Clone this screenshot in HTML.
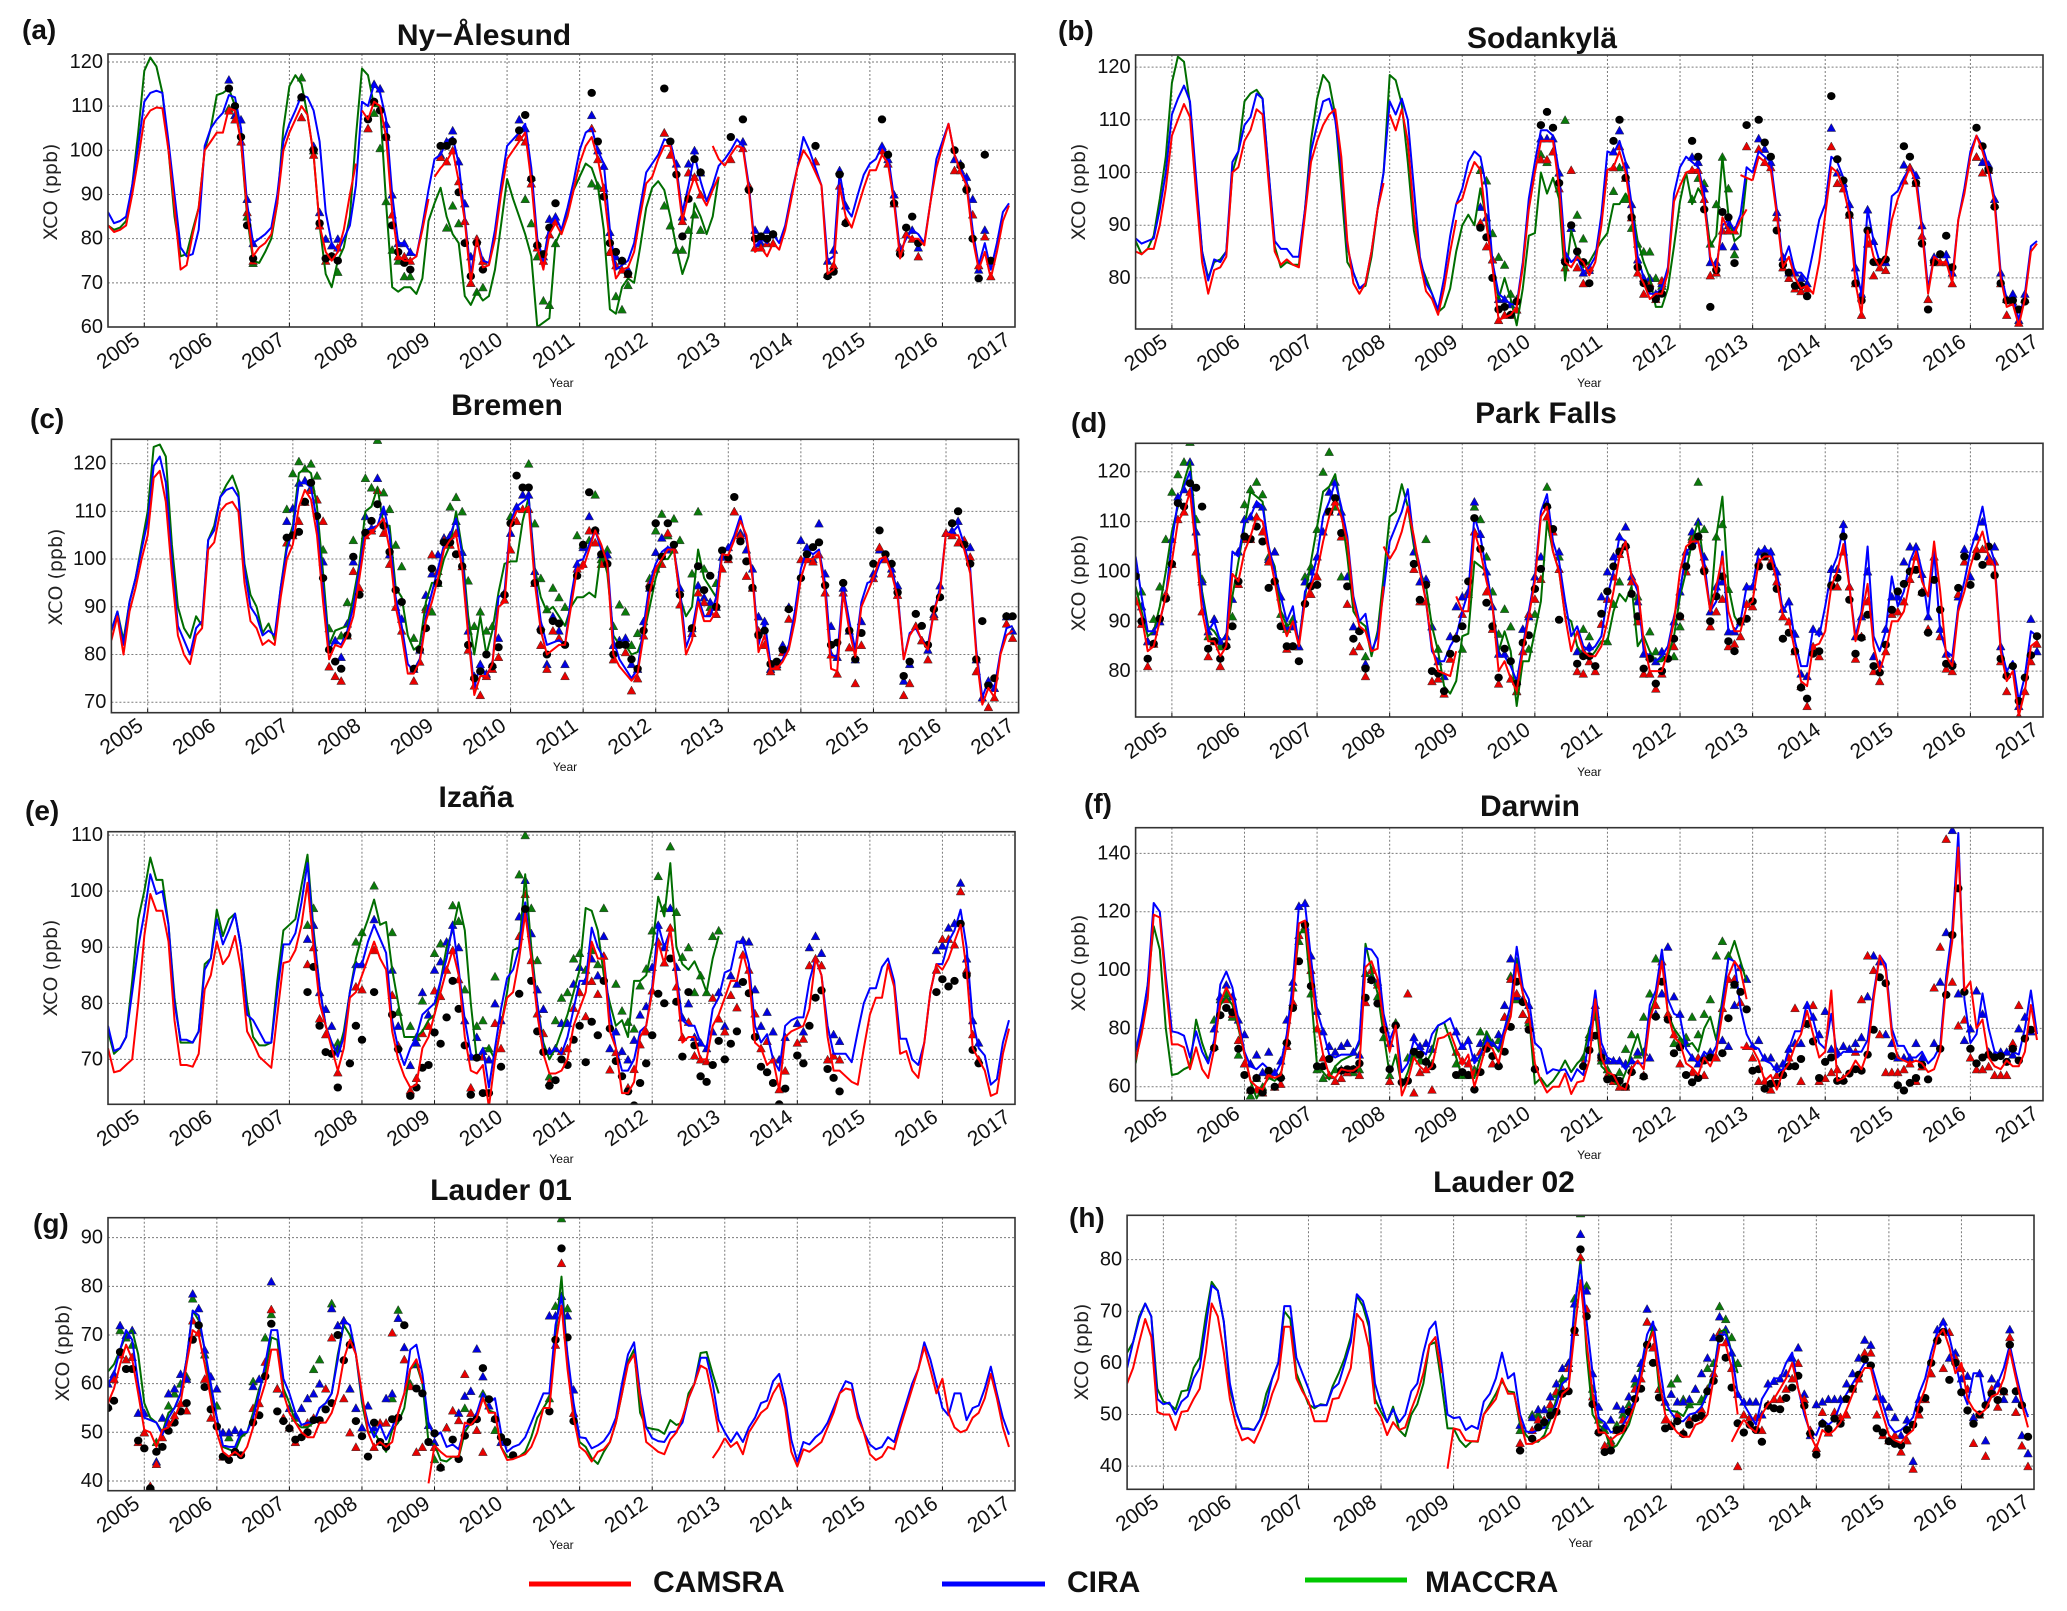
<!DOCTYPE html>
<html lang="en">
<head>
<meta charset="utf-8">
<title>XCO time series at eight stations</title>
<style>
html,body{margin:0;padding:0;background:#fff}
svg{display:block}
text{font-family:"Liberation Sans",sans-serif;fill:#111}
.ttl{font-weight:bold;font-size:30px;text-anchor:middle}
.lab{font-weight:bold;font-size:28px}
.ytk{font-size:20px;text-anchor:end;dominant-baseline:central}
.xtk{font-size:21px;text-anchor:middle;dominant-baseline:central}
.yt{font-family:"DejaVu Sans",sans-serif;font-size:19px;text-anchor:middle;fill:#222}
.xt{font-size:12px;text-anchor:middle;dominant-baseline:central}
.leg{font-weight:bold;font-size:30px}
</style>
</head>
<body>
<svg id="fig" xmlns="http://www.w3.org/2000/svg" width="2067" height="1611" viewBox="0 0 2067 1611">
<g>
<line x1="529" x2="631" y1="1584" y2="1584" stroke="#f00" stroke-width="5"/>
<text class="leg" x="653" y="1592">CAMSRA</text>
<line x1="942" x2="1045" y1="1584" y2="1584" stroke="#00f" stroke-width="5"/>
<text class="leg" x="1067" y="1592">CIRA</text>
<line x1="1305" x2="1407" y1="1580" y2="1580" stroke="#00c800" stroke-width="5"/>
<text class="leg" x="1425" y="1592">MACCRA</text>
</g>
</svg>
<script>
const yearTicks=[2005,2006,2007,2008,2009,2010,2011,2012,2013,2014,2015,2016,2017];
/* Lines: monthly values starting July 2004. Markers: runs of [startMonth, values...] */
/* (a) Ny-Alesund */
const aRed=[83,81.5,82,83,90,98,107,109,109.7,109.5,100,87,73,74,81,87,100,102,104,104,109.5,109,102,86,76,78,79,81,88,100,104,107,110,108,99,83,77,75,77,82,90,97,109,107,111,110,103,86,76,75,75,76,82,89,94,96,97.5,100,93,84,70,80,73.5,74,80,90,98,100,102,104,93,78,73,81,83.5,81,85,91,97,101,103,98,91,79,71,73,73.5,77,85,92.5,94,98,101,101,95,84,90,94,90,87.5,91,94,96.5,99,101,100.5,91,77,78,76,79,77.5,82,89,96,100,98,95,92,72,73,92,85,82.5,87,91.5,95.5,95.5,99,97,88,75.5,81,80,80,78.5,88,96,101,106,99,95,92,80,73,77,71,77,84,87.5];
const aRedBreaks=[42,54,102];
const aRedExtra=[[100,101,98,96.5]];
const aBlue=[86,83.5,84,85,92,101,111,113,113.5,113,102,90,78,76,76.5,82,101,105,107,108.5,112.5,112,105,88,79,80,81,82.5,90,102,106,109,112.5,112,109,102,86,79,77,80,83,92,111,110,115,113,107,90,79,79,77,76,83,91,98,99,102,103,97,85,72,80,75,74.5,82,92,101,102.5,104,106,96,80,75,83,85,82,87,93,100,104,105,100,97,82,73,74,75,79,87,95,97,99,102.5,102,96,86,92,99,93,88.5,92,96.5,98,100,102.5,101,92,78,80,79,81,79,83,90,96,103,100,96,92,75,76,95,87,85,90,94.5,97,98,101,99,89,77,80,82,81,79,88,98,102,106,99,96,93,82,74,79,73,79,86,88];
const aGreen=[83,82,82.5,84,92,104,118,121,119,113,100,85,76,76.5,82,87,100,105,112.5,113,114,110,102,85,75,74.5,77,80,88,105,114.5,117,115,108,99,83,72,69,75,78,85,103,118.5,117,110,110,88,69,68,69,69,67.5,71,84,88,91.5,85,81,79,67,65,68,66,67,73,83,93.5,89,85,81,76,60,61,62,79,82,86,91,94,97,96,92,82,64,63,69,71,70,78,87,91.5,93,91,85,78,72,76,88,85,81,85,94];
const aObs=[[20,114,110,103,83,75.5],[32,112,,100,83.5,75.5,76,75],[43,107,111,109,103,83,77,74.5,73],[55,101,101,102,90.5,79,71.5,79,73],[68,104.5,108,93.5,78.5,76.5,82.5,88],[80,113,102,89.5,79,77,75,72],[92,114,102,94.5,80.5,89,98,95],[103,103,,107,91,80,80.5,80,81],[117,101,,71.5,72.5,94.5,83.5],[128,107,99,88,76.5,82.5,85,79],[140,100,96.5,91,80,71,99,75]];
const aTriBlue=[[20,116,108,107,89,79],[32,112,,101,86,80,78.5,80],[44,115,114,106,90,79,79,77],[55,99,102,104.5,97.5,88,76,80,75],[68,107,105,94,79,76,84.5,85],[80,108,100,96.5,81.5,76,75,73],[92,104,,97,85,97,100,95],[105,102,92,82,79,82,81],[119,75,77.5,95.5,87.5],[128,101,98,90,78,81,82,78],[140,98,97,94,89,73,82,75]];
const aTriRed=[[20,109,107,102,86,75],[32,107.5,,99,83,75,76,78],[43,105,111,,103,85.5,76,76,75],[55,98.5,97.5,100,93,84,70,80,75],[68,103,102,92.5,78,75,81,84],[80,105,98,91.5,77,74,73,72],[92,104,99,,84,95,94,90],[103,98,,100.5,92,78,78,79,79],[117,97.5,,72,74,92,84],[128,100,97,88,78,81,80,76],[140,95.5,95.5,92,85.5,74,80.5,71.5]];
const aTriGreen=[[20,109.5,108,102,85,74.5],[32,116.5,,100,83,,,72.5],[43,105,108.5,100.5,88.5,77.5,75,71.5,71.5],[56,82.5,87.5,83.5,84,70,68,69],[68,103,89,83.5,76,66,65,79],[80,92.5,92,91.5,77,67,64,69.5],[92,87.5,83,77.5,77.5,82,85.5,82]];
/* (b) Sodankyla */
const bRed=[85,84.5,85.5,85.5,90,97,107,110,113,110.5,96,83,77,81.5,82,84,100,101,106,108,112,111,98,85,82.5,83.5,82.5,82,92,102,106,109,111,112,103,87,79,77,79,85,93,98,111,108,112,106,92,83,77.5,76,73,78,85,91,95,99,102,100.5,90,82,72,72.5,73,74.5,82,93,100,106,106,106,97,83,82,84,83,80.5,83,90,100.5,101,104,100,92,81,79,76,77,77,81,94.5,97.5,100,100.5,100.5,94,84,81,91.5,89,88.5,91,93,98.5,103,102,100.5,92,82,84,80,78,78.5,77,83,92,101,100,97,92,79,73,89,84,82,84,91,95,98,101,98,89,77,84,83,83,79,91,96,103,107,104,100,94,80,74.5,75,71,76,85,86.5];
const bRedBreaks=[42,54,102];
const bRedExtra=[[53,94,95],[100,99.5,99,98.5]];
const bBlue=[87.5,86.5,87,87.5,93,100,111,114,116.5,113.5,99,85,79.5,83.5,83,85,102,104,109,110.5,115,114,100,87,85.5,85.5,84,84,93,104,109,113.5,114,110,101,86,81,78,79,85,93,100,113.5,111,114,110,97,84,79,77,74,80,88,94,97,102,104,103,97,83,77,76,75,75,83,95,102,108,108,107,100,85,83,84,81,82,84,92,104,103.5,106,102,94,84,80,77,77,78,82,96,101,103,102,101,96,83,82,90,91,89,92,101,100,104,103,102,93,83,86,81,81,79.5,85,91,94,103,102,99,94,82,77,93,87,83,84,95.5,96.5,99,101,99.5,90,78,84,84,84,80,91,97,104,107,105,101,95,81,76,76.5,72,77,86,87];
const bGreen=[87,84.5,85.5,88,95,103,117,122,121,113,98,85,80,83,83.5,85,100,104,113.5,115,115.7,114,100,86,82,83,82.5,82.5,93,106,114,118.5,117,111,97,83,81,78,78.5,84,93,100,118.5,117.5,113,102,89,83,80,77,73.5,74.5,78,85,90,92,90,97,91,83,76,80,76,71,78,88,88.5,100,96,99,95,79.5,89,85,82,83,85,87,88.5,94,94,96,94,87,83,80,74.5,74.5,78,86,94.5,100,94,97,95,86,88,103,92,87,88,99];
const bObs=[[57,89.5,87.7,80,74,74.5,73,75.5],[67,109,111.5,108.5,98,83,90,85,83,79],[79,106,110,99,91.5,82,79,78,76,77],[92,106,103,93,74.5,81.5,92.5,91.5,82.8],[101,109,,110,105.7,103,89,82.5,81,78.5,78.5,76.5],[115,114.5,102.5,98.5,92,79,75.7,89,83,83,83.5],[127,105,103,98,86.5,74,83,84.5,88,82],[139,108.5,105,100.5,93.5,79,75.7,75.7,74,75.5]];
const bTriBlue=[[57,93.5,91.5,83.5,76,76,75,74],[67,106.5,106.5,106.5,100,84,89.5,84,81,81.5],[79,104,108,101.5,94,83.5,80,80,77,79],[92,103,102,97,83,83,86,90,86],[103,106.5,104.5,102,92.5,84,81,81,80,79],[115,108.5,100,98,94,82,77,93,87,83,83],[127,101.5,101,99.5,90,76,84,84.5,84.5,81],[139,103,102,101.5,95,81,76,77,72,77]];
const bTriRed=[[57,90.5,86,83.5,72,73,73,74],[67,102.5,102.5,104,97,82,100.5,82,79,82],[79,101,105,99,91.5,81,77,79,76,79.5],[92,100.5,100.5,95,80.5,81,89,89,89],[101,105,,104.5,102,101,91.5,82,80,78,77.5,78],[115,105,98,97,92,79,73,86.5,80.5,82,81.5],[127,98.5,101,98,88,76,83,83,83,79],[139,103,100,100.5,94,79,73,75.5,71.5,76]];
const bTriGreen=[[57,100.5,98.5,88.5,84,82.5,77,76],[67,103.5,102,104,100,110,89.5,92,87.5,82],[79,96.5,101,95,89.5,86.5,85,85,80,78.5],[92,95,99,98,86.5,94,103,97,84.5]];
/* (c) Bremen */
const cRed=[83,88,80,89,94,100,105,117,118.5,112,97,84,80,78,84,85.5,102,103.5,110,111.5,112,110,95,87,85.5,82,83,82,92,100,103,111,114.5,112.5,105,91,79,82,81.5,84,88,96,104.5,105.5,107,108.5,102,90,84,76,76,78.5,87,91,96,102,104,105,98,84,71.5,75.5,75.5,78,90,91,107,110,110,111,95,85,80,81,82,82,90,98,98,102,106,103,99,80,77.5,76,74.5,76,84,93,98,100,102,102,92,80,83,91,87,87,89,101,100.8,104,108,105,96,80.5,84,77,77,78.5,81,87,96,100,100,101.5,93,77,76.5,93,85,79.5,90,93,96,100,100.5,97,92,79,84,86,83,81,89,93,105.5,105,105,102,97,80,69.5,73,71,80,84,85];
const cRedBreaks=[];
const cRedExtra=[];
const cBlue=[85,89,82,91,96,102,108,119.5,121.5,116,100,86,83,80,85.5,87,104,106,113,114.5,115,113,98,90,88,84,85,84,94,102,106,116,116,115,108,94,81,83,82,85,90,98,106,106.5,107,111,105,92,86,78,76.5,79,88,93,98,103,105,108.5,101,85,73,78,75.5,78,92,93,108,111,112,113,97,87,82,82.5,83,82,92,99.5,100,103,106,102,100,83,79,77,75,77,86,95,99,101.5,102.5,102,94,81.5,85,92,88,88,92,102,102,105,109,104,97,82,87,78,78,79,82,89,98,102,101,102,95,80,79.5,94,87,81,91,95,95.5,99,101,98,93,79,84.5,85.5,83,82,89,94,105.5,105.5,107,103,98,81,71,74.5,73,80.5,85.5,86];
const cGreen=[85,89,83,91,96,103,110,123.5,124,121.5,103,90,85.5,83.5,88,86,104,107,113,115.5,117.5,114,99,92.5,90,84.5,86.5,83,94,103,107,118,119,118,111,97,82,85,85.5,86,92,99,110,111,115,107,107,94,92,84,81,82,91,95,95,100,103,110,102,88,80,88,80,85,93,99,99.5,99.5,108,113,98,92,89,90,88,86,90,92,92,93,92,102,97,84,82,82,80,80.5,84,90,96,100,100,102,92,88,90,102,96,94,92,102];
const cObs=[[29,104.5,105,105.7,112,116,109,96,81,78.5,77,84,100.5,92.5],[42,105.5,108,111.5,107,101.5,93.5,91,,77,81,85.5,98],[54,95,103.5,103.5,101,98.5,82,75,76.5,80,77.5,81.5,92.5],[66,107.5,117.5,115,115,95,85,80,87,86.5,82,,96.5],[78,103,114,106,101,99,80,82,82,79,77,85,94],[90,107.5,100.5,107.5,103,92.5,,85.5,98.5,93.5,96.5,90,101.8],[102,100.3,113,103.7,99.5,94,84,85,78,78.5,81,89.5],[114,96,101,102.5,103.5,94.5,82,82.5,95,85,79,84.5],[126,99,106,101,99,93,75.5,78.5,88.5,86,82,89.5,92],[139,107.5,110,103,99,79,87,73.5,75,,88,88]];
const cTriBlue=[[29,108,110.7,116,116.5,115,112.5,99.5,,83,79.5,86.5,99.5],[42,109,106.5,117,110,101,,87.5,,77,81,92.5,97],[54,101,104.5,105,108,101.5,85,75.5,78,76,78,83.5,93],[66,105.5,111,113.5,113.5,97.5,86,78,88,85,78,,99],[78,102.5,109,106,101,101,82,83,83.5,78,77,87,94],[90,101.5,104.5,102,102,94,,85.5,94.5,92,91,90,100.5],[102,102.5,110,105.5,102,98,88,87,77,78,82,90],[114,104,102.5,100,107.5,97,86,79.5,94,85,79,87],[126,97,102,100,98,94.5,74.5,78,86,83,81,88.5,94.5],[138,105.5,106,108,103.5,102.5,79,71,74.5,73,,88,85]];
const cTriRed=[[29,103.5,105,108,112,114.5,112.5,108,77.5,75.5,74.5,84,97.5,94],[42,105,106,114.5,105.5,99,90,85,,74.5,78.5,89.5,101],[54,97.5,104,103,105.5,98.5,81,73.5,71.5,75.5,77,79.5,91.5],[66,102,108,110.5,110.5,95,82,77,85,83.5,75.5,,98],[78,99,106,103.5,99,,79,,80.5,72.5,75,84,95],[90,98,99,105.5,102,90.5,,84.5,93,91,89,88.5,98],[102,100,110,105,96.5,94,85,82,76.5,77.5,80.5,87.5],[114,100,100,99.5,101,93,80,76,93,81.5,74,82],[126,96,102.5,100,97,92.5,71.5,74,86,83,79,88],[138,105.5,105,103.5,104,100.5,76.5,,69,71,,86.5,83.5]];
const cTriGreen=[[29,110.5,118,120.5,119,120,117.5,102,85.5,,84,91,104],[42,117,115,125,114,110.5,103,98.5,,83.5,,90,89],[54,95,,111,113,110,95.5,86,89,85,86],[66,109,,,120,107.5,96,89.5,94,92,90,,105],[78,103,104,113.5,100,102,86,90.5,89,82,84.5,,96],[90,106,109.5,105,108.5,104,,97,110,98,90,95]];
/* (d) Park Falls */
const dRed=[95,91,84,85,90,95,102,110,112,116,104,92,86,86,83,85,99.5,98,104,107,111,110,104,98,91,87,90,85,94,97,100,106,111,114,111,106,94,89,88,84,84.5,97,102.5,104.5,108,113,107,100,94,85,80,79.5,79,84,92,92,108,104,98,93,80,82,78.5,76,84,91,98,111,113,104,100,91,84,88,84,83,83,85,90,96,103,106,99,97,86,80,80,80,84,90,100,105,106,106,100,92,97,103,92,88,88,93,94,102,103,103,98,91,90,84,78,77,85,85.5,88,97,100,105.5,97,86,91,97.5,85,80,84,90,90,92,98,104,98,95,106,96,83,81,92,96,101,105,108,103,101,84,78,80,71,76,85,86];
const dRedBreaks=[42,54];
const dRedExtra=[[41,105,102.5],[53,95,92]];
const dBlue=[103,95,88,88,90,95,106,114,117,120,107,95,88,90,86,87,104,103,110,111,114,113,105,100,95,90,93,85,96,98,103,111,114,118,113,107,95,90,91.5,84,87,96,106,109,112,116.5,106,101,94,84,82,82,85,87,92,96,111,107,100,93,83,83,81,78,85,92,99,112,115.5,106,102,94,87,89,85,84,85,87,95,100,107,106,99,96,84,83,82,83,85,91,96,104,105,106,102,92,94,104,88,88,90,97,97,104,104.5,104,100,92,94,86,81,81,88.5,87,93,100,103,109,97,87,92,105,87,84,88,99,93,96,102,105,100,91,104,88,84,83,93,98,104,108,113,106,102,85,80,82,74,79,88,87];
const dGreen=[97,92,87,88,93,100,108,113,118,122,108,96,89,88,86,87,95,102,109,116,115,114,104,101,92,89,90,86,95,102,109,116,117,119.5,112,103,92,90,89,83,88,99,111,112,117.5,113,105,100,97,89,84,77,75.5,78,87,87.5,102,101,100,93,84,88,84,73,82,82,88,94,110,104,100,91,90,85,83,82.5,84,86,86,92,95.5,94,97,85,87,84,82,82,83,87,95,100,106,110,101,92,107,115,97,91,89];
const dObs=[[0,99,90,82.5,85.5,90.5,94.5,101.5,113.7,113,117.7,116.8,113,84.5,86,82.5,85,89,98,107,106.5,109,106,96.7,98,89,85,85,82,93.5,97,97.3,,112,114.7,107.7,97,86.5,88,80.5],[46,101.5,94.3,97.3,80,79.5,76,83.5,86.5],[54,89,98,110.7,104.5,93.7,89,78.7,84.5,82,77.5,85.7,87.2],[66,96.5,100.5,113,108.5,90.3,,,81.5,83,83,81,91.5],[78,96,101,104,105,95.5,91,80.5,82.5,77.5,80,82.5,86.5],[90,91,101,105,107,100,90,95,99,86,84,90,90.5],[102,94,101,103,101,96.5,86.5,87.7,84,76.7,74.5,83.5,84],[115,97.2,98.7,107,94.3,83.5,86.7,91.3,81,79.7,85.3,92.3],[126,96,97.5,100,100.3,95.7,87.7,98.3,92.3,81.5,81,96.7,103],[138,97.3,103,101.3,105,99.2,82.5,79,81,74,78.7,83.2,87]];
const dTriBlue=[[0,100,93,86,88,90,95,106.5,115,116.5,122,108,98,88,90.5,86,87,94.5,104,110.5,111,113.5,113,102.5,104,95,89,89,85,98,100,103,108,116,118,112,99,89,88.5,81.5],[46,104,98,98.5,89,82,79,87,93],[54,95,96,114,107.5,100,93,83.5,83.5,,78,88.5,91],[66,99,103,113.5,,104,,,84,84,85,,95],[78,100,103,107,109,99,94,83.5,83,82,84,,90],[90,96,104,108,110,103,92,97,98,88,88,90,97],[102,97,104,104.5,104,100,92.5,94,87.5,79.5,79,88.5,88],[115,100.5,100.5,109.5,97,87,91,100,83,81.5,88.5,95],[126,95,102,105,105,99.5,91,,88.5,83.5,82,95,104.5],[138,99,107,110,103,105,85,79.5,,73,,90.5,84]];
const dTriRed=[[0,94,89.5,81,85.5,,95.5,101.5,110.5,112,116,104,92,83,86,81,85.5,,97.5,106.5,106.5,111,108,102,98,,84.5,85,,,95.5,99,,112,114,107,93.5,84,85,79],[46,100.5,94,94,78,78.5,75.5,82.5,87],[54,91.5,95.5,108,,96,88.5,77.5,,78.5,76,84,91.5],[66,94.5,98.5,111,108,100.5,,,80,79.5,82,80,89.5],[78,94.5,99,103.5,105.5,98,90,79.5,79.5,76.5,79.5,83,85],[90,91,100,106.5,107,101,89,92,94.5,85,85.5,87,93.5],[102,93,102,103,102,98,91,90,84,77,73,85,83],[115,97,97,104,97,82.5,87,94,80,78,84,91.5],[126,92,94,98.5,103,96,88.5,103,87,80.5,80,95.5,102],[139,104.5,104.5,102,102,82,76,,71,76,82,85.5]];
const dTriGreen=[[0,,96,86,90.5,97,106.5,116,119.5,122,126,110.5,98.5,87,90.5,85,87,91,,113.5,116.5,118,115.5,103,104,91.5,88.5,90.5,85,99,101,108.5,120,124,113,99,,,,83],[46,,,106.5,89,84.5],[54,84.5,,113,110.5,103,96,87.5,92.5,89,76,,84.5],[66,91.5,,117,,103,,,,88.5,87],[78,86,93.5,98,,98,95,,88,84,83,,83],[90,89,100,107,118,108.5,,107,109.5,96.5]];
/* (e) Izana */
const eRed=[72,67.7,68,69,70,80,92,99.5,96.5,96.5,91,77,69,69,68.7,71,82.5,85,91,87,88.5,92,86,75,73,70.5,69.5,68.5,78,87.2,87.5,89.5,94,101.5,90,80,76,72,68,72,81,82,85,88,91,88,86,75,70,67,65,65.5,72,74,78,82,86,89.5,85,74,68,67.5,69,61.5,70,76,81,82,88,96,88,78,71,67.5,67.5,68,70,76,79,82,91,88,88,75,72,64,64,66,74,76,82,91,87,93.5,84,73,74,74,70,70,76,78,81,84,84,89,85,73,72,69,70,64.5,74,75,75.5,76,79,88,85,74,68,68,67,66,65.5,72,78,81,81,87,83,71,71.5,68,66.7,73,82,87,86,88,91,94,86,72,70,68,63.5,64,71,75.5];
const eRedBreaks=[];
const eRedExtra=[];
const eBlue=[76,71.5,72,74,82,90,96,103,99.5,100,94,80,73.5,73.5,73,75,86,88,95,90.5,93,96,90,78,77,75,73,73,82,90.5,90.5,92.5,98,105,92,83,76,73,70.5,74,82,87,87,91,94,91.5,89,77,72,69,72,74,78,79,80,84,88,94,86,77,71,70,72,65,72,79,84.5,86,90,98,88,80,72,71,72,71,74,79,84,84,93.5,90,88,78,72,68,68,70,75,76,83,94,90,93,85,77,76,76,73,72,79,81,85.5,86,91,91,87,76,73,74.5,70,68,76,77,77.5,77.5,84,88,85,76,71,71,71,69.5,75,80,82.7,82.7,86.5,88,84,73.7,73.7,70,69,73,82,87,87,91,93,96.7,90,77,72,70.7,65.5,66.5,73,77];
const eGreen=[75,71,72,74,84,95,100,106,102,102,94,81,73,73,73,75,87,88,96.7,92,95,96,90,80,74,72.5,72.5,73,84,93,94,95,101,106.5,93,83,76,73,71,75,82,88,92,95,98.5,94,94.5,86,80,74,74,74,75,77,78,84,90,93,98,93,80,70,72,72,70,76,82,89.5,90,103,90,80,73,70,72,75,78,82,86,97,96.5,93,85,80,76,77,74,84,84,85,90,99,95.5,105,90,87,86,87.5,85,82,88,92];
const eObs=[[33,82,86.5,76,71.3,71,65],[40,69.3,76,73.5,,82],[47,78,71.8,,63.5,65,68.5,69],[54,74.8,72.8,77.5,84,79,72.5,63.7,70.3,64,64,,68.7],[68,81.7,96.8,84,75,71.3,65.3,66.3,70,69,73.5],[78,76,69.5,76.7,74.3,84,75.5,69.7,67,64.3,61.8,65.8,69.3],[90,74.3,81.7,80,88,80.3,70.5,82,72.5,67,66,69,73.3],[102,70,72.8,75,83.8,81.8,74,68.7,67.7,65.8,62,64.8],[114,70.7,69.3,76,81,82.3,68.3,66.7,64.3],[137,82,84.3,83,84,94.2,85,71.7,69.3]];
const eTriBlue=[[33,91.5,94,82,79,76,72],[41,87,87,,95],[47,86,76,,69,73,82,78],[54,86,87.5,91,94,90,77,70.5,74,71.5,70,80,77],[68,95.5,102,92.5,82.5,79,71.5,72,76.5,76.5,83.5],[78,86.5,84,88,85,92,72,75,71.5,70,73.5,78,79.5],[90,86.5,94,90,97,86.5,77.5,80,74,73,72,75,82],[102,76,85,83.5,91.3,91,82.5,76,78.5,75,70,74],[114,76.5,75,90,92,89,,74.5,73.3],[137,89.5,90.3,93.5,94.3,101.5,88,77,73]];
const eTriRed=[[33,87,90,77.3,74.5,,67.7],[41,83,82.5,,89.5],[47,81.5,72.5,,64.5,66.7,74.7,76],[54,82.3,81.3,86,89.5,84.3,,65,,70.5,,76.5,72],[68,92,99.5,87.7,78.2,74.7,66,,71.5,72,79.2],[78,82,77.7,84,81.7,88.5,68.2,71.3,,65,68.3,72.7,75],[90,82.3,91,87.3,93.5,83,74,76.7,70.7,70,69.7,81,77.3],[102,75,81.5,79.3,88.7,86,78.2,72,73.3,70,64.7,68],[114,73,73.7,86.8,88,86.8,70,70.7,70],[137,86,91.5,91.5,90.5,100,86,74.5,70]];
const eTriGreen=[[33,94,97],[38,73],[41,91,92.7,,101],[47,92.7,78.5,,76,74,80.5],[54,89,90.7,,97.5,94.7,82.5,,76,77,72,84.8],[68,103,110,97,87.7,79,67,77,81,82,88],[78,89,86,89.5,87,97,,83.5,78.7,76.7,75.5,83.2,86.2],[90,93,102.7,97,108,96.3,88.3,90,82,85,82,92,93]];
/* (f) Darwin */
const fRed=[69,78,90,119,118,95,74.5,74.5,73.5,66,73.5,66,63,73,89,94,90,81,71,62,60,59,64,63,64,75,90,116,117,99,82,71,64,63,66,65.5,65.5,67,101,103,97,82,72,81,57,62,70,67,65,67,76.5,77,78.5,73,67.5,71,60,67,74.5,73,68,78,84,102,92,85,68,62,58,60,60,64.5,57.5,61.5,62,69,90,70,65,64,60,59,66,69,66,83,90,103,85,77,75,68,66.5,64,70,67,72,85,98,103,100,90,73,69,62,64,59,65,68,74,78,86,78,70,72,93,62,63,65,69,66,72,90,105,100,78,70,69,68,69,68,65,66,72,95,110,142,93,96,80,83,70,67,66,69,67,67,72,88,76];
const fRedBreaks=[102];
const fRedExtra=[[100,73.5,73.2,73]];
const fBlue=[72,82,95,123,120,98,79,78.5,77.5,70,79,72,68,76,95,99.5,94,83,72,67,66,68,66,64,68,78,96,122,122.5,104,86,79,71,70,71,71,71,76,107.5,107,104,85,76,81,65,68,76,73,71,78,81,82,83.5,78,73,76,68,71,76,75,73,80,88,108,94,90,75,73,64.5,66,65.5,66,62,66,64,77,93,75,70,69,68.5,66,69,68,68,88,93,107,90,85,84,73,70,68,72,70,74,88,104,103,87,78,74,73,69,68,65,66,73,79,79,89,83,75,73,85,70,72,72,72,72,76,92,105,102,80,74,74,70,70,72,68,70,74,98,114,147,90,75,78,92,80,72,71,72,72,71,80,93,78];
const fGreen=[68,80,95,115,107,80,64,64.5,66,67,83,75,69,75,88,91,88,80,71,62,56,60,63,62,64,75,93,112,115,92,67,65,62.5,67,69,70,71,75,109,100,92,78,64,71,60,65,72,70,68,72,81,82,76,70,63,64,63,70,79,75,72,78,85,104,92,85,61,63,60,62,65,69,65,68,70,80,85,67,65,62,60,65,72,78,70,85,91,106,85,80,77,74,75,72,80,84,76,90,104,110,103,96];
const fObs=[[13,73.3,84.5,87,85.5,73,64,58.7,63,58,65.5,60,63,75,87,103,115.5,94.5,67,67,69.5,,65.5,66,66,68,90.5,96.5,88.5,79.5,66,81,61.5,62,72,71,68.5,67],[53,64,65,64,59,65,73,70.5,67,72,80.5,96,89,79.5,66],[74,67,72.5,77.5,70,62.5,63,62,60,65,,63.5,,84,96,83,71.5,73.5,64,61.5,63,69,70,,71.5,83.5,95,92.5,86.5,65.5,66,59.3,61,61,64,67,67,69.5,81.5,75.5,63,68.5,70,62,62,64.5,66,65.5,71,79.5,97.5,95.5,70.5,60.5,58.7,61.3,63,67.5,62.5,,73,91.5,112,128,92.5,73,68,70,71,70,70.5,68.5,73,69,76.5,79.5]];
const fTriBlue=[[13,80,91,95,91,83,78,68,71,65,72,65,69,83,96,122,123,105,86,79,74,72,74,75,72,71,,97,96,,75,,,,77,74,75,73],[53,79,74,76,70,75,77,75,78,88,104,91,90,88],[74,,77,84,72,69,69,69,68,69,72,72,70,85,92,108,91,85,75,70,68,70,72,,76,74,88,101,97,74,76,70,70,67,68,73,75,75,88,84,78,86,73,72,74,73,75,77,91,105,103,78,75,70,70,70,75,70,,75,96,113,148,92,76,80,93,85,72,71,72,72,71,80,84,79]];
const fTriRed=[[13,74,,90,85,76,68,59,59,58,64,60,61,74,89,112,115,100,80,70,64,62,63,65,66,64,89,100,95,,62,,,92,58,65,66,59],[53,72,69,68,65,72,75,68,68,84,97,92,85,83],[74,68,,88,70,64,62,60,60,66,,64,,88,103,85,78,68,,65,70,64,,70,87,97,97,89,74,70,62,62,59,64,65,70,87,62,,88,62,63,65,66,63,,72,90,105,100,78,65,65,65,66,68,62,67,,94,108,145,96,81,83,70,66,66,67,64,64,64,75,88]];
const fTriGreen=[[13,83,90,92,84,71,68,57,63,60,64,,64,76,94,110,114,92,66,63,64,66,66,65,65,66,99,98,91,77,64,82,,70,71,69,69,68],[53,68,64,64,66,79,76,75,76,84,98,90,85,82],[74,70,78,85,69,66,62,65,73,78,71,84,92,104,92,85,75,76,77,84,78,85,90,105,110,105,95]];
/* (g) Lauder 01 */
const gRed=[56,59,64,68,65,58,50.5,50,47,50.5,51,53,56,64,71,70,64,57,50,46,45,46,45,47,51,56,60,67,67,58,54,52,50,49,49,52,52,54,58,65,69,66,58,50,47,48,47,48,54,58,63,65,60,39.5,47.3,46,45,45,45,52,51.5,53,57,54,54,47,44.3,44.5,45,45.5,47,50,55,55,68,76,63,53,47,46,44,46,46.5,48,52,58,64,66,57,48,47,46,45.5,48.5,50,53,57,60,63.7,63,57,50,48.8,47,48,45.5,50,52,54,55,58,60,55,46,43,46.5,46,47,48,51,54,58,59,58.7,53,50,45.5,44.3,45,47,46.5,51,55,59,63,67.5,63,58,61,54,51,50,50.5,53,54,57,62,57,51,47];
const gRedBreaks=[53,102];
const gRedExtra=[[100,44.7,46.5,48.8]];
const gBlue=[60,62,67,71,69,60,53,52.5,52,49.5,53,55,58,65,75,74,67,60,53,47.3,47,47,50,50,53,58,64,71,71,61,58,54,51.5,52,52,55,56,58,65,73,72,66,57,52,49,51.5,48.5,51,54,58,67,68,62,52,49,50,47,47.5,46.5,51,52,54,58,56,57,50,46,47,47.5,49,52,55,58,58,72,78,66,56,49,48.8,46.7,47.3,48.2,50,53,60,66,68.5,58,51,48.8,48.2,48,50,50.2,52,57,60,65.3,65.3,60,52.5,50,48,50,48,51,53,56,56.5,60.5,62,57,48.5,44,48,47.5,49,50,52,55,58,60.5,60,54,50,47.5,46.5,47,49,48,52,56,60,63,68.5,65,60,55,53.5,58,58,52.5,55,55.5,59,63.5,58,53,49.5];
const gGreen=[62.5,64,67,70,71,66,56,53,52,50,54,55,58,65,75,73,67,58,53,47,46.5,46,49,50,54,59,62,69.5,69,59,56,52,51,51,52,55,56,58,66,72,70,66,56,50,50,48,46,50.5,52,55,63,64,60,48,47.5,44.3,44,45,44.8,50,52,53,57,54.5,54,47,45,44.7,45,46,49,53,55,57,70,82,65,54,48,47,44.7,43.5,46,48,52,58,64.5,67,54,51,50.7,50.5,49.7,52.5,51.5,52,58,60,66.3,66.5,62,58];
const gObs=[[0,55,56.5,66.5,63,63,48.3,46.7,38.5,46,47,50.3,52,54.3,56,69,72,59.3,54.7,51.2,45,44.3,46,45.3,,52,53.5,61.5,72.3,54.3,52.3,50.8,48.5,49,50,52.5,52.5,54.7,56,70,64.8,68,52.3,49.2,45,52,48,47,52.7,53,72,,59,58,48,49.8,42.7,,48.5,44.5,49.3,52.2,52.7,63.2,56.8,52.7,49,48,45.3],[73,54.3,69,87.8,69.5,52.3]];
const gTriBlue=[[0,60,62,72,70,71,54,54,,44,53,58,59,62,61,78.5,75.5,67,61.5,59,50,50,50.5,50,,59.5,61,,81,59,58,55,53.5,55,57,58,60,,75.5,72,73,59,55,51,55.5,51,,57,58,73.5,67.5,,64,,51.5,48,,51,,54,57.5,58.5,67.2,61.5,55.5,53,48],[73,74,74,78,74,58.8]];
const gTriRed=[[0,55.5,61,66,65,65.5,48,50,39,43.5,49,52,53.5,56,54.5,73,70.5,61,53,,45,,46,,,55,56,64.5,75.3,59,53,51,48,,52,53,,59,69.5,,57,50,47,,,47,52,52,70.5,,65,59.5,46,47,,47,43,51,54.5,52.5,62,54,50.5,46],[73,,68,84.8,,54]];
const gTriGreen=[[0,,61,71,69.5,68,,50,,48,,55.5,58,60,61.5,77.5,,66,,55.5,50,49,,,,60.5,,69.5,74.3,59,,,53,,,63,65,,76.5,,73,59,55,,,,,,57,75.2,,60,,,,44.5,,,,,55,,,58,,50.5],[73,57,76,94,75.5,,]];
/* (h) Lauder 02 */
const hRed=[56,59,64,68.5,65,50.5,50,50,47,50.5,50.7,53,55,62,71.5,69,62,53,48,45,45.5,44.5,47,50,54,57,67,67,57,54.5,52.5,48.7,48.7,48.7,53,53.2,56,59,69.5,68,63,52,49.5,46,48.5,47,47.5,51,54,58,63.5,65,58,39.5,47.3,47,45,44.8,44.8,50,51.5,53,57,54,54,49,44.3,44.3,45,45.5,46.5,50,54,55,66,76,64,54,46.5,46.5,45,46,46.5,49,52,57,63,66,57,50,48,46.5,45.7,45.7,48,48.5,50,57,63.5,63.5,59,50,49,47.5,46.5,50,52,53,55,57,60,55,51,46,43.5,47,46,47,48.5,51,54,57,59,59,54,50,46,45,44.5,46,47,52,55,60,65,66.5,63,58,60,53,51,50,51,53.5,54,57,62.5,57,52,47.5];
const hRedBreaks=[42,53,102];
const hRedExtra=[[41,51.3,49.5],[100,44.7,47,49]];
const hBlue=[59,64,68.5,71.5,69,53,52,52.3,50,52.5,53.5,57,59,67,75,74,68,56,50.5,47.2,47.2,47,49,52,57,60,71,71,61,58,55,51.5,51.8,51.8,55,56,60,64,73.3,72,68,56,52,48.5,51,48.5,50,54.5,56,62,66.5,68,60,50,49.3,49.5,47,47.8,47.2,52.5,54,57,62,57,58,50,46.7,46.5,47,47.5,49.5,52,56,57,71,79,68,58,49.3,48.5,46.5,47,48,50,53,59,65.5,68,60,52.5,50.3,48.7,48.7,50,50.3,51.5,54,58,65.5,65.5,62,54,52,50,48,53,55,57,57,60,62,55,50,46.5,46,49,48,49,52,54,56,58,60,60,56,52,48,46.5,47,48,49.5,54,57,62,66,68,65,60,55,52,58,58,52,54,56,59,63.5,58,53,49.5];
const hGreen=[62,64,69,71.5,69,55,52.5,52,51,54.5,54.7,59,61,69,75.7,74,68,55,50.5,47.3,47.3,47,49,54,57,60,70,68.5,58,55,52,51.2,52,51.8,55.5,58,61,65,73,71,67,53,50.5,48.5,51.5,47,45.8,50,52,56,63.5,64,56,47.3,47.3,45,43.7,44.8,44.7,50,52,54,56.5,54.5,54.3,48,46,44.7,44.7,46,49,53,57,57,70,80,62,50,48,47,43.3,44,46,48,52,59,63,67,55,51,50.7,50.5,49.7,52,52,52,55,58,66,66.5,62,58];
const hObs=[[65,43,,45.3,47.5,48.5,49.8,50.5,54,54.5,66.3,82,69,52,46.5,42.7,43,47,47.3,50.5,53,55,63.5,60,53.3,47.3,47.7,48.7,46.2,48,49.3,49.7,54.5,56.5,64.7,61,55.2,48.3,46.5,48,47,44.7,51.7,51.2,51,53.2,55.2,57.5,51.7,46.3,42.2,48.2,47.2,49.2,48.2,53,55,57.7,60.7,59.5,47.3,46.5,44.8,44.3,44,47,48,51,53.2,60,64.3,66,56.7,60,54.3,50.8,48.2,50,51.8,54,52.8,54.5,63.5,54.5,51.8,45.7]];
const hTriBlue=[[65,48,,49.5,51,51,53.5,56,59,60,71.5,85,74,58,51.5,47.8,49,51.7,51,53.5,57,60,70.5,67,55,52.5,54,52.5,52.5,53,55,58,61,65,69,66.5,62,54,52.5,52.5,52.5,50,56,56.5,57,58,61,63,54,46,52,52.5,53,53,53,56,58,61,64.5,63.5,53.5,53,51.5,49.5,46,49,41,53,53,58,66.5,68,61,62,57,57.5,49.5,58,45,57,56,53,66.5,53,46,42.5]];
const hTriRed=[[65,44.5,,47,49,49,52,54.5,55,59,66,80.5,70.5,53.5,47,44,44.5,47,49,51,55,57,68,63,55,49,48,50,46.5,49,49.5,51,55,58,66,64,59,40,50,49.5,49.5,47,52,53,53,55,57,60,53,47,43.5,50.5,46.5,50.5,49.5,50,55,57,62,62,50,46,45,46,42.8,45,39.5,50,53,58,65,59,66,61,59,55,44.5,50,42,55,51.5,54.5,65,50.5,44,40]];
const hTriGreen=[[65,47,,50,50,48,51,54,57,60,72.5,89,75,55,49,47,45,48,50,52,56,59,68,63,55,52.5,56,57,53,52,55,53,59,60,71,68.5,65,60]];

const panels=[
{id:'a',name:'ny-alesund',title:'Ny−Ålesund',label:'(a)',lx:22,ly:39,tx:484,ty:45,left:108,right:1015,top:54,bottom:327,ymin:60,ymax:121.8,yticks:[60,70,80,90,100,110,120],ytx:51,yty:192,xty:383,red:aRed,blue:aBlue,green:aGreen,breaks:aRedBreaks,extra:aRedExtra,obs:aObs,tb:aTriBlue,tr:aTriRed,tg:aTriGreen},
{id:'b',name:'sodankyla',title:'Sodankylä',label:'(b)',lx:1058,ly:40,tx:1542,ty:48,left:1135.6,right:2043,top:55,bottom:329,ymin:70.3,ymax:122.3,yticks:[80,90,100,110,120],ytx:1079,yty:192,xty:383,red:bRed,blue:bBlue,green:bGreen,breaks:bRedBreaks,extra:bRedExtra,obs:bObs,tb:bTriBlue,tr:bTriRed,tg:bTriGreen},
{id:'c',name:'bremen',title:'Bremen',label:'(c)',lx:30,ly:428,tx:507,ty:415,left:111.4,right:1018.6,top:439.3,bottom:712.7,ymin:67.8,ymax:125.1,yticks:[70,80,90,100,110,120],ytx:56,yty:577,xty:767,red:cRed,blue:cBlue,green:cGreen,breaks:cRedBreaks,extra:cRedExtra,obs:cObs,tb:cTriBlue,tr:cTriRed,tg:cTriGreen},
{id:'d',name:'park-falls',title:'Park Falls',label:'(d)',lx:1071,ly:432,tx:1546,ty:423,left:1135.6,right:2043,top:443.3,bottom:717,ymin:70.8,ymax:125.7,yticks:[80,90,100,110,120],ytx:1079,yty:583,xty:772,red:dRed,blue:dBlue,green:dGreen,breaks:dRedBreaks,extra:dRedExtra,obs:dObs,tb:dTriBlue,tr:dTriRed,tg:dTriGreen},
{id:'e',name:'izana',title:'Izaña',label:'(e)',lx:25,ly:820,tx:476,ty:807,left:108,right:1015,top:831.7,bottom:1104.3,ymin:62,ymax:110.6,yticks:[70,80,90,100,110],ytx:51,yty:968,xty:1159,red:eRed,blue:eBlue,green:eGreen,breaks:eRedBreaks,extra:eRedExtra,obs:eObs,tb:eTriBlue,tr:eTriRed,tg:eTriGreen},
{id:'f',name:'darwin',title:'Darwin',label:'(f)',lx:1084,ly:813,tx:1530,ty:816,left:1135.6,right:2043,top:827.7,bottom:1100.7,ymin:55.2,ymax:148.8,yticks:[60,80,100,120,140],ytx:1079,yty:963,xty:1155,red:fRed,blue:fBlue,green:fGreen,breaks:fRedBreaks,extra:fRedExtra,obs:fObs,tb:fTriBlue,tr:fTriRed,tg:fTriGreen},
{id:'g',name:'lauder-01',title:'Lauder 01',label:'(g)',lx:33,ly:1233,tx:501,ty:1200,left:108,right:1015,top:1217.7,bottom:1490.7,ymin:38,ymax:94.1,yticks:[40,50,60,70,80,90],ytx:63,yty:1353,xty:1545,red:gRed,blue:gBlue,green:gGreen,breaks:gRedBreaks,extra:gRedExtra,obs:gObs,tb:gTriBlue,tr:gTriRed,tg:gTriGreen},
{id:'h',name:'lauder-02',title:'Lauder 02',label:'(h)',lx:1069,ly:1227,tx:1504,ty:1192,left:1127.1,right:2034,top:1215.3,bottom:1489.3,ymin:35.5,ymax:88.6,yticks:[40,50,60,70,80],ytx:1082,yty:1352,xty:1543,red:hRed,blue:hBlue,green:hGreen,breaks:hRedBreaks,extra:hRedExtra,obs:hObs,tb:hTriBlue,tr:hTriRed,tg:hTriGreen}
];

const NS='http://www.w3.org/2000/svg';
const fig=document.getElementById('fig');
function mk(tag,parent,attrs,text){
  const e=document.createElementNS(NS,tag);
  for(const k in attrs)e.setAttribute(k,attrs[k]);
  if(text!==undefined)e.textContent=text;
  parent.appendChild(e);
  return e;
}
function xScale(p,i){return p.left+i*(p.right-p.left)/150;}
function yScale(p,v){return p.bottom-(v-p.ymin)/(p.ymax-p.ymin)*(p.bottom-p.top);}
function eachRun(runs,fn){
  for(const r of runs){
    for(let k=1;k<r.length;k++){
      if(r[k]!=null)fn(r[0]+k-1,r[k]);
    }
  }
}
function linePath(p,vals,start,breaks){
  let d='',pen=false;
  for(let k=0;k<vals.length;k++){
    const i=start+k;
    if(vals[k]==null){pen=false;continue;}
    if(breaks&&breaks.indexOf(i)>=0)pen=false;
    d+=(pen?'L':'M')+xScale(p,i).toFixed(1)+' '+yScale(p,vals[k]).toFixed(1);
    pen=true;
  }
  return d;
}
function triPath(cx,cy){
  return 'M'+(cx-4.4).toFixed(1)+' '+(cy+3.8).toFixed(1)+'L'+cx.toFixed(1)+' '+(cy-4.2).toFixed(1)+'L'+(cx+4.4).toFixed(1)+' '+(cy+3.8).toFixed(1)+'Z';
}
function drawTriangles(p,parent,runs,fill,label){
  const g=mk('g',parent,{fill:fill,stroke:'#333','stroke-width':0.5});
  
  
  eachRun(runs,function(i,v){
    const t=mk('path',g,{d:triPath(xScale(p,i),yScale(p,v))});
    
    
  });
}
for(const p of panels){
  const g=mk('g',fig,{});
  
  

  const lab=mk('text',g,{class:'lab',x:p.lx,y:p.ly},p.label);
  
  
  const ttl=mk('text',g,{class:'ttl',x:p.tx,y:p.ty},p.title);
  
  

  const cp=mk('clipPath',g,{id:'clip-'+p.id});
  mk('rect',cp,{x:p.left,y:p.top,width:p.right-p.left,height:p.bottom-p.top});

  const grid=mk('g',g,{stroke:'#7a7a7a','stroke-width':1,'stroke-dasharray':'2 2'});
  
  
  for(const yr of yearTicks){
    const gx=xScale(p,(yr-2004.5)*12);
    const vl=mk('line',grid,{x1:gx,x2:gx,y1:p.top,y2:p.bottom});
    
    
    const tick=mk('line',g,{x1:gx,x2:gx,y1:p.bottom,y2:p.bottom-4,stroke:'#111'});
    
    
    const tl=mk('text',g,{class:'xtk',x:gx-26,y:p.bottom+24,transform:'rotate(-35 '+(gx-26)+' '+(p.bottom+24)+')'},String(yr));
    
    
  }
  for(const v of p.yticks){
    const gy=yScale(p,v);
    const hl=mk('line',grid,{x1:p.left,x2:p.right,y1:gy,y2:gy});
    
    
    const tl=mk('text',g,{class:'ytk',x:p.left-5,y:gy},String(v));
    
    
  }

  const plot=mk('g',g,{'clip-path':'url(#clip-'+p.id+')'});
  
  
  drawTriangles(p,plot,p.tg,'#0a7a0a','maccra');
  drawTriangles(p,plot,p.tb,'#0000e0','cira');
  drawTriangles(p,plot,p.tr,'#e80000','camsra');

  const lg=mk('path',plot,{d:linePath(p,p.green,0),fill:'none',stroke:'#006e00','stroke-width':2,'stroke-linejoin':'round'});
  
  
  const lb=mk('path',plot,{d:linePath(p,p.blue,0),fill:'none',stroke:'#0000ff','stroke-width':2,'stroke-linejoin':'round'});
  
  

  const og=mk('g',plot,{fill:'#000'});
  
  
  eachRun(p.obs,function(i,v){
    const c=mk('ellipse',og,{cx:xScale(p,i).toFixed(1),cy:yScale(p,v).toFixed(1),rx:4.2,ry:4});
    
    
  });

  const lr=mk('path',plot,{d:linePath(p,p.red,0,p.breaks),fill:'none',stroke:'#ff0000','stroke-width':2,'stroke-linejoin':'round'});
  
  
  for(const r of p.extra){
    const lx=mk('path',plot,{d:linePath(p,r.slice(1),r[0]),fill:'none',stroke:'#ff0000','stroke-width':2});
    
    
  }

  const frame=mk('rect',g,{x:p.left,y:p.top,width:p.right-p.left,height:p.bottom-p.top,fill:'none',stroke:'#333','stroke-width':1.6});
  
  

  const yt=mk('text',g,{class:'yt',x:p.ytx,y:p.yty,transform:'rotate(-90 '+p.ytx+' '+p.yty+')','dominant-baseline':'central'},'XCO (ppb)');
  
  
  const xt=mk('text',g,{class:'xt',x:(p.left+p.right)/2,y:p.xty},'Year');
  
  
}
</script>
</body>
</html>
